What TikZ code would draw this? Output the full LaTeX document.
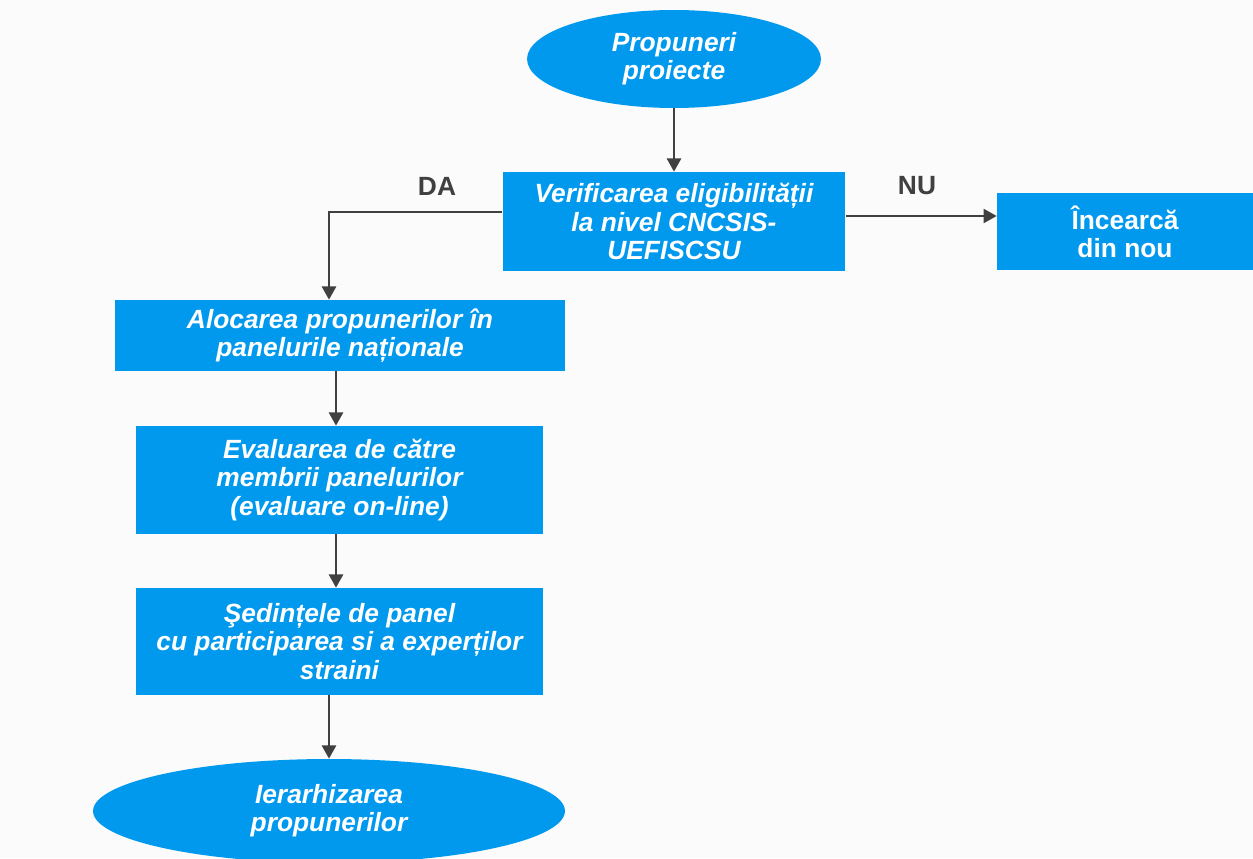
\documentclass[tikz,border=0pt]{standalone}
\usepackage{fontspec}
\setmainfont{Liberation Sans}
\usepackage{tikz}
\tikzset{>=latex}
\usepackage{xcolor}
\usetikzlibrary{positioning,calc}
\usetikzlibrary{shapes.geometric}
\usetikzlibrary{arrows.meta}
\definecolor{boxblue}{RGB}{0,153,238}
\definecolor{arrowgray}{RGB}{64,64,64}
\definecolor{bggray}{RGB}{251,251,251}
\tikzset{
	procbox/.style={rectangle,fill=boxblue,text=white,align=center,inner sep=0pt,anchor=center,
		font=\fontsize{15}{16}\selectfont\bfseries\itshape},
	termbox/.style={ellipse,fill=boxblue,text=white,align=center,inner sep=0pt,anchor=center,
		font=\fontsize{15}{16}\selectfont\bfseries\itshape},
	answer/.style={text=arrowgray,font=\fontsize{15}{16}\selectfont\bfseries},
	line/.style={
		draw=arrowgray, line width=1.3pt, -{Triangle[length=7.5pt,width=8pt]},
	},
}

\begin{document}
\begin{tikzpicture}[x=0.02cm,y=-0.02cm]
	
	% Background
	\useasboundingbox (0,0) rectangle (1253,858);
	\fill[bggray] (0,0) rectangle (1253,858);
	
	% Start
	\node[termbox,minimum width=5.88cm,minimum height=1.96cm] (start) at (674,59) {Propuneri\\proiecte};
	
	% Check
	\node[procbox,minimum width=6.86cm,minimum height=1.98cm] (verif) at (674,221.5) {Verificarea eligibilității\\la nivel CNCSIS-\\UEFISCSU};
	\node[procbox,font=\fontsize{15}{16}\selectfont\bfseries,minimum width=5.12cm,minimum height=1.56cm] (retry) at (1125,231.5) {Încearcă\\din nou};
	
	% Evaluation steps
	\node[procbox,minimum width=9cm,minimum height=1.42cm] (aloc) at (340,335.5) {Alocarea propunerilor în\\panelurile naționale};
	\node[procbox,minimum width=8.14cm,minimum height=2.16cm] (eval) at (339.5,480) {Evaluarea de către\\membrii panelurilor\\(evaluare on-line)};
	\node[procbox,minimum width=8.14cm,minimum height=2.14cm] (sed) at (339.5,641.5) {Şedințele de panel\\cu participarea si a experților\\straini};
	
	% End
	\node[termbox,minimum width=9.44cm,minimum height=2.08cm] (rank) at (329,811) {Ierarhizarea\\propunerilor};
	
	% Labels
	\node[answer] (da) at (437,186) {DA};
	\node[answer] (nu) at (917,186) {NU};
	
	% Draw connections
	\draw[line] (start) -- (verif);
	\draw[line] ([yshift=0.19cm]verif.west) -| ([xshift=-0.22cm]aloc.north);
	\draw[line] ([yshift=0.11cm]verif.east) -- ([yshift=0.11cm]verif.east -| retry.west);
	\draw[line] ([xshift=-0.07cm]eval.north |- aloc.south) -- ([xshift=-0.07cm]eval.north);
	\draw[line] ([xshift=-0.07cm]sed.north |- eval.south) -- ([xshift=-0.07cm]sed.north);
	\draw[line] (sed.south -| rank.north) -- (rank.north);
	
\end{tikzpicture}
\end{document}
